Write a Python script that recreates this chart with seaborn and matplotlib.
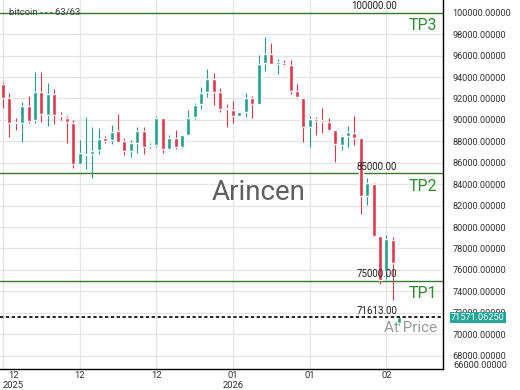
import numpy as np
import pandas as pd
import matplotlib
matplotlib.use("Agg")
import matplotlib.pyplot as plt
import matplotlib.transforms as mtransforms
import seaborn as sns

# candle data (63 candles)
opens = [93350, 92070, 89800, 89680, 91320, 89990, 92630, 90460, 92390, 90400,
         90200, 89740, 85880, 86700, 86850, 87190, 88280, 88120, 88960, 88030,
         87130, 87820, 88960, 87550, 87660, 90150, 87280, 88280, 87440, 88590,
         90300, 91480, 92630, 93790, 92630, 91050, 90920, 90390, 90710, 92070,
         91480, 95280, 96150, 95250, 95340, 95120, 92720, 92010, 89360, 90050,
         89990, 89830, 89010, 87660, 88500, 88800, 88280, 82900, 83990, 79170,
         75930, 78790, 71020]
highs = [93530, 92480, 90150, 91700, 92230, 94440, 94440, 93470, 92850, 90710,
         90360, 89990, 88120, 90240, 89360, 89270, 88500, 89520, 90550, 88280,
         88120, 89360, 89310, 87820, 90360, 90200, 88590, 89060, 88620, 90920,
         91550, 93100, 94720, 94400, 92950, 91480, 91790, 90720, 92480, 92230,
         96050, 97760, 97150, 95650, 95590, 95590, 93350, 92050, 90360, 90300,
         91080, 90150, 89050, 88590, 89430, 90360, 88300, 84550, 84150, 79200,
         79260, 79050, 71613]
lows = [91110, 88380, 89060, 87960, 89680, 89680, 89830, 89430, 89620, 89990,
        87870, 85480, 85790, 85390, 84550, 86790, 87870, 87720, 87960, 86720,
        86570, 86950, 86820, 87400, 87500, 86940, 87190, 87260, 87400, 88560,
        90050, 91010, 92160, 91390, 90760, 89310, 89680, 90380, 90300, 90200,
        91450, 94590, 95180, 94280, 95030, 92420, 92080, 87960, 87440, 88590,
        88810, 88950, 86100, 87190, 87500, 87660, 81220, 82060, 79100, 74690,
        75120, 73200, 70900]
closes = [92070, 89740, 89700, 91320, 89920, 92570, 90550, 92390, 90460, 90360,
          89780, 85880, 86880, 86800, 87100, 88220, 88060, 88900, 87970, 87130,
          87820, 88960, 87440, 87620, 90150, 87280, 88340, 87440, 88590, 90150,
          91390, 92540, 93790, 92630, 91020, 90980, 90390, 90710, 92010, 91480,
          95190, 96150, 95210, 95300, 95120, 92720, 92110, 89360, 90050, 89900,
          89830, 89010, 87720, 88500, 88900, 88280, 82900, 84080, 79170, 75060,
          78860, 76620, 71571.0625]

tick_pos = [0, 12, 24, 36, 48, 60]
tick_labels = ["12\n2025", "12", "12", "01\n2026", "01", "02"]

levels = [100000, 85000, 75000]
level_names = ["TP3", "TP2", "TP1"]
at_price = 71613
y_ticks = list(range(68000, 100001, 2000))

sns.set_style("white")
plt.rcParams["font.family"] = ["Roboto", "DejaVu Sans"]

df = pd.DataFrame({"open": opens, "high": highs, "low": lows, "close": closes})
df["x"] = np.arange(len(df))
up = df["close"] >= df["open"]
GREEN = "#26a08a"
RED = "#e0384b"
df["color"] = np.where(up, GREEN, RED)

fig = plt.figure(figsize=(5.2, 3.9), dpi=100)
ax = fig.add_axes([0, 21 / 390, 443 / 520, 369 / 390])

# wicks and bodies
ax.vlines(df["x"], df["low"], df["high"], colors=df["color"], lw=0.8, zorder=3)
body_lo = df[["open", "close"]].min(axis=1)
body_h = (df["close"] - df["open"]).abs().clip(lower=140)
ax.bar(df["x"], body_h, bottom=body_lo, width=0.62, color=df["color"], zorder=4)

ax.set_xlim(-0.47, 68.86)
ax.set_ylim(66757, 101185)

# grid
ax.set_yticks(y_ticks)
ax.set_yticklabels([f"{v:.5f}" for v in y_ticks])
ax.set_xticks(tick_pos)
ax.set_xticklabels(tick_labels)
ax.grid(True, color="#e6e6e6", lw=1, zorder=0)
ax.yaxis.tick_right()
ax.tick_params(axis="y", length=0, pad=7, labelsize=6.6, labelcolor="#333333")
ax.tick_params(axis="x", length=0, pad=1.5, labelsize=6.8, labelcolor="#333333")
first = ax.get_xticklabels()[0]
first.set_horizontalalignment("left")
first.set_multialignment("center")

for s in ["left", "top"]:
    ax.spines[s].set_visible(False)
for s in ["right", "bottom"]:
    ax.spines[s].set_color("black")
    ax.spines[s].set_linewidth(1)

# target levels
for lv, name in zip(levels, level_names):
    ax.axhline(lv, color="#2e7d32", lw=1, zorder=2)
    ax.annotate(f"{lv:.2f}", xy=(61.7, lv), xytext=(0, 1), textcoords="offset points",
                ha="right", va="bottom", fontsize=7, color="#222222", zorder=6)
    ax.annotate(name, xy=(67.9, lv), xytext=(0, -9.5), textcoords="offset points",
                ha="right", va="center", fontsize=11.5, color="#2e8b2e", zorder=6)

ax.axhline(at_price, color="black", lw=1.2, ls=(0, (2, 1.5)), zorder=5)
ax.annotate(f"{at_price:.2f}", xy=(61.7, at_price), xytext=(0, 1), textcoords="offset points",
            ha="right", va="bottom", fontsize=7, color="#222222", zorder=6)
ax.annotate("At Price", xy=(67.9, at_price), xytext=(0, -8), textcoords="offset points",
            ha="right", va="center", fontsize=11, color="#9a9a9a", zorder=6)

# header and watermark
ax.text(9 / 443, levels[0], "bitcoin - - - 63/63", transform=mtransforms.blended_transform_factory(ax.transAxes, ax.transData),
        ha="left", va="center", fontsize=6.8, color="#444444", zorder=6)
ax.text(259 / 443, 0.477, "Arincen", transform=ax.transAxes, ha="center", va="center",
        fontsize=20, color="#5f5f5f", zorder=1)

# last price box
trans = mtransforms.blended_transform_factory(ax.transAxes, ax.transData)
ax.text(1 + 8 / 443, closes[-1], f"{closes[-1]:.5f}", transform=trans, ha="left", va="center",
        fontsize=6.6, color="white", clip_on=False, zorder=7,
        bbox=dict(boxstyle="square,pad=0.15", fc="#26a69a", ec="none"))

# bottom label squeezed at the axis end
fig.text(453 / 520, (390 - 365) / 390, f"{66000:.5f}", ha="left", va="center",
         fontsize=6.6, color="#333333")

fig.savefig("out.png", dpi=100)
